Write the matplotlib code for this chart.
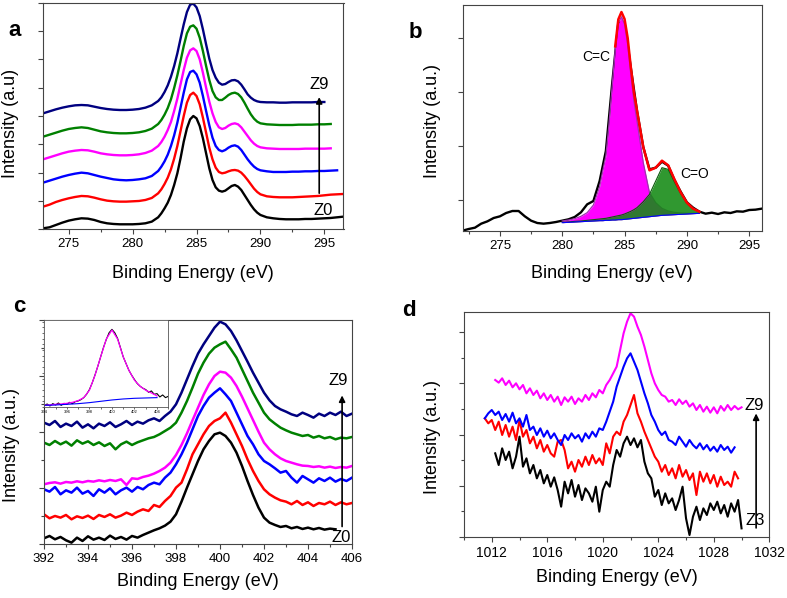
import numpy as np
import matplotlib.pyplot as plt
from matplotlib.ticker import MultipleLocator, NullLocator

plt.rcParams['font.family'] = ['Liberation Sans', 'DejaVu Sans']

# ---------------- data (intensities in arbitrary units) ----------------
# panel a: C1s, samples Z0..Z9 (offset for clarity)
e_a = np.concatenate([np.arange(273, 282.01, 0.5), np.arange(282.25, 290.01, 0.25), np.arange(290.5, 296.51, 0.5)])
a_z0 = [3, 6, 13, 20, 26, 30, 33, 32, 28, 22, 18, 16, 15, 15, 15, 16, 18, 23, 36,
        48, 63, 80, 103, 133, 168, 213, 263, 303, 330, 340, 333, 310, 273, 228, 183,
        148, 126, 116, 113, 116, 123, 130, 133, 128, 118, 103, 88, 73, 60, 50, 43,
        36, 33, 31, 30, 30, 30, 31, 31, 32, 33, 34, 36, 38]
a_red = [68, 74, 82, 88, 93, 97, 100, 99, 95, 90, 86, 84, 83, 83, 84, 85, 88, 94, 108,
         120, 136, 155, 180, 212, 250, 295, 340, 380, 403, 410, 400, 375, 335, 290, 245,
         210, 185, 172, 168, 170, 174, 177, 178, 176, 170, 160, 148, 135, 122, 112, 105,
         99, 97, 96, 96, 96, 97, 98, 99, 100, 102, 104, 105, 106]
a_blue = [140, 146, 152, 158, 163, 167, 170, 168, 163, 158, 154, 150, 148, 147, 148, 150, 153, 160, 175,
          188, 204, 224, 250, 282, 320, 365, 410, 450, 472, 476, 465, 440, 400, 355, 312,
          275, 250, 238, 234, 238, 245, 250, 252, 248, 238, 224, 210, 198, 188, 181, 177,
          174, 172, 172, 172, 173, 173, 174, 174, 175, 175, 176, 177]
a_magenta = [210, 216, 222, 228, 233, 236, 238, 237, 233, 228, 225, 223, 222, 222, 223, 225, 229, 236, 250,
             262, 278, 298, 322, 355, 392, 435, 478, 515, 537, 543, 535, 510, 470, 425, 383,
             348, 322, 306, 301, 304, 311, 316, 318, 315, 306, 293, 280, 267, 257, 250, 246,
             243, 242, 241, 241, 241, 241, 242, 242, 242, 242, 243]
a_green = [278, 284, 290, 296, 301, 304, 306, 304, 299, 294, 291, 289, 288, 288, 289, 291, 295, 302, 316,
           328, 344, 364, 390, 424, 462, 505, 550, 588, 608, 612, 602, 575, 535, 490, 448,
           415, 396, 388, 388, 395, 403, 408, 410, 406, 396, 380, 362, 345, 332, 323, 318,
           315, 314, 313, 313, 313, 314, 314, 314, 315, 315, 316]
a_z9 = [348, 354, 360, 365, 369, 372, 373, 372, 368, 364, 361, 359, 358, 358, 359, 361, 365, 372, 385,
        396, 412, 432, 458, 490, 528, 572, 615, 652, 674, 677, 666, 640, 600, 555, 512,
        478, 455, 440, 434, 436, 442, 447, 448, 444, 434, 420, 405, 395, 388, 384, 382,
        381, 381, 380, 380, 381, 381, 381, 381, 382, 382]

# panel b: deconvoluted C1s
e_b = np.arange(272, 296.01, 0.5)
b_data = [1, 6, 10, 22, 29, 39, 44, 54, 60, 60, 44, 31, 24, 22, 24, 27, 31,
          35, 42, 56, 80, 90, 150, 240, 440, 625, 625, 490, 360, 252, 185, 190, 208,
          196, 153, 118, 86, 70, 58, 52, 55, 51, 56, 54, 59, 58, 63, 64, 67]
e_fit = [280, 280.5, 281, 281.5, 282, 282.5, 283, 283.25, 283.5, 283.75, 284, 284.25, 284.5, 284.75,
         285, 285.25, 285.5, 285.75, 286, 286.5, 287, 287.5, 288, 288.5, 289, 289.5, 290, 290.5, 291]
b_base = [25, 26, 27, 28, 29, 30, 31, 31, 32, 32, 33, 33, 34, 34, 35, 36, 37, 38, 39, 41, 43, 45, 47,
          48, 49, 50, 51, 52, 53]
b_cc = [30, 33, 37, 44, 55, 78, 133, 180, 225, 320, 433, 543, 623, 643, 620, 560, 470, 390, 330,
        205, 115, 85, 68, 60, 56, 54, 53, 53, 53]
b_co = [26, 27, 29, 30, 32, 34, 36, 37, 38, 40, 42, 44, 46, 48, 51, 55, 59, 64, 70, 88, 110, 150,
        190, 185, 148, 112, 83, 66, 58]
b_env = [31, 34, 39, 46, 58, 82, 138, 186, 231, 328, 442, 554, 635, 657, 636, 579, 492, 416, 361,
         252, 182, 190, 211, 197, 155, 116, 85, 67, 58]

# panel c: N1s (grid 392 eV, step 0.25 eV)
c_z0 = [18, 25, 15, 22, 12, 5, 20, 10, 24, 14, 20, 13, 26, 16, 22, 14, 25, 20, 28, 35, 42, 48, 56, 68,
        90, 128, 170, 210, 250, 285, 310, 330, 335, 325, 305, 275, 235, 190, 148, 110,
        80, 65, 58, 52, 55, 48, 52, 46, 50, 45, 49, 44, 47, 45]
c_red = [90, 78, 85, 80, 88, 75, 84, 79, 86, 76, 88, 82, 90, 80, 86, 95, 88, 98, 105, 100, 118, 112, 130, 145,
         170, 185, 225, 270, 300, 330, 355, 370, 378, 395, 365, 330, 295, 255, 220, 190,
         165, 150, 140, 132, 128, 120, 130, 118, 126, 115, 124, 120, 128, 118, 126, 120, 124]
c_blue = [165, 158, 172, 150, 162, 155, 170, 152, 160, 145, 165, 155, 168, 150, 162, 170, 158, 172, 165, 178,
          185, 180, 200, 215, 240, 270, 305, 345, 385, 415, 440, 455, 468, 450, 430, 395, 360, 325, 300, 270,
          250, 240, 228, 215, 220, 200, 185, 205, 195, 185, 198, 190, 200, 188, 196, 190, 200]
c_magenta = [180, 184, 186, 182, 187, 185, 189, 186, 190, 188, 192, 189, 193, 190, 195, 178, 198, 196, 202, 206,
             212, 220, 230, 245, 268, 298, 333, 372, 410, 448, 480, 505, 518, 515, 500, 475, 443, 408, 373, 338,
             305, 285, 270, 258, 250, 245, 240, 236, 235, 232, 234, 230, 233, 229, 232, 230, 235]
c_green = [305, 298, 310, 300, 308, 296, 312, 302, 309, 298, 306, 295, 303, 285, 300, 308, 298, 306, 312, 318,
           322, 330, 340, 350, 365, 395, 430, 470, 512, 545, 572, 590, 600, 608, 585, 560, 525, 490, 455, 425,
           395, 375, 362, 350, 342, 335, 330, 325, 328, 320, 325, 318, 322, 315, 320, 318, 322]
c_z9 = [365, 358, 370, 352, 362, 355, 368, 350, 360, 348, 362, 355, 366, 352, 360, 370, 358, 368, 362, 372,
        378, 370, 385, 398, 420, 455, 495, 535, 572, 600, 625, 650, 668, 660, 640, 612, 580, 548, 515, 485,
        455, 432, 415, 405, 398, 390, 385, 395, 388, 380, 392, 385, 395, 388, 398, 385, 392]

# inset of panel c: N1s fit (grid 394 eV, step 0.25 eV)
in_data = [4, 9, 3, 10, 6, 12, 5, 11, 8, 14, 10, 16, 18, 22, 28, 38, 52, 72, 96, 122, 150, 178, 202, 222,
           232, 222, 205, 178, 150, 130, 110, 95, 82, 70, 62, 56, 52, 44, 48, 38, 40, 30, 36, 28, 32]
in_e_fit = [394, 394.5, 395, 395.5, 396, 396.5, 397, 397.5, 398, 398.5, 399, 399.5, 400, 400.5, 401, 401.5,
            402, 402.5, 403, 403.5, 404]
in_fit = [5, 6, 8, 9, 11, 14, 19, 28, 50, 95, 150, 203, 230, 203, 150, 110, 80, 62, 50, 42, 33]
in_e_base = [394, 395, 396, 397, 398, 399, 400, 401, 402, 403, 404]
in_base = [5, 6, 8, 10, 13, 17, 21, 24, 26, 27, 28]

# panel d: Co2p3/2 region, samples Z3..Z9 (step 0.25 eV)
d_z3_start, d_z3 = 1012.25, [250, 215, 265, 230, 255, 205, 240, 300, 210, 235, 190, 215, 175, 200, 160, 185,
                             150, 178, 140, 90, 165, 130, 170, 120, 155, 110, 145, 130, 105, 150, 75, 140,
                             165, 150, 215, 260, 240, 280, 300, 275, 295, 268, 290, 225, 190, 175, 120, 140,
                             95, 130, 100, 115, 80, 110, 150, 55, 5, 60, 90, 50, 85, 65, 100, 80,
                             105, 70, 95, 60, 100, 75, 110, 25]
d_red_start, d_red = 1011.5, [355, 340, 350, 320, 345, 305, 335, 300, 330, 290, 350, 300, 320, 280, 300, 265,
                              290, 255, 275, 250, 240, 285, 290, 260, 205, 225, 195, 230, 210, 240, 215, 245,
                              220, 235, 215, 280, 250, 300, 315, 305, 345, 365, 395, 425, 370, 345, 315, 290,
                              265, 240, 225, 195, 215, 185, 205, 175, 215, 180, 200, 170, 190, 125, 195, 165,
                              190, 160, 185, 150, 180, 155, 165, 150, 195, 175]
d_blue_start, d_blue = 1011.5, [355, 370, 380, 365, 375, 350, 368, 345, 372, 340, 355, 330, 365, 320, 330, 305,
                                325, 300, 318, 295, 310, 290, 275, 305, 290, 310, 295, 305, 285, 310, 295, 315,
                                300, 325, 320, 345, 375, 405, 450, 480, 510, 535, 550, 525, 500, 465, 430, 400,
                                365, 345, 320, 305, 315, 290, 285, 275, 300, 285, 270, 290, 275, 265, 280, 262,
                                275, 258, 270, 255, 275, 260, 270, 252, 268]
d_z9_start, d_z9 = 1012.25, [470, 462, 475, 455, 468, 448, 460, 442, 455, 430, 445, 425, 438, 415, 430, 410,
                             425, 405, 420, 395, 418, 405, 420, 398, 415, 405, 425, 410, 430, 418, 440, 430,
                             455, 470, 490, 510, 560, 610, 645, 670, 660, 630, 605, 570, 530, 490, 460, 440,
                             425, 420, 405, 410, 395, 412, 398, 408, 390, 400, 380, 395, 375, 390, 372, 388,
                             370, 392, 378, 395, 380, 392, 382, 388]

NAVY, GREEN, MAGENTA, BLUE, RED = '#000080', '#008000', '#FF00FF', '#0000FF', '#FF0000'

# ---------------- figure ----------------
W, H = 787, 598
fig = plt.figure(figsize=(W / 100, H / 100), dpi=100)


def rect(l, t, r, b):
    return [l / W, 1 - b / H, (r - l) / W, (b - t) / H]


def ftext(x, y, s, **kw):
    fig.text(x / W, 1 - y / H, s, ha='center', va='center', **kw)


def style(ax, xmaj, xmin, ymaj, yoff=0.0, ymin=None):
    for sp in ax.spines.values():
        sp.set_color('#444444')
        sp.set_linewidth(0.8)
    ax.xaxis.set_major_locator(MultipleLocator(xmaj))
    ax.xaxis.set_minor_locator(MultipleLocator(xmin))
    ax.yaxis.set_major_locator(MultipleLocator(ymaj, offset=yoff))
    ax.yaxis.set_minor_locator(MultipleLocator(ymin) if ymin else NullLocator())
    ax.tick_params(which='both', direction='out', color='#444444', width=0.8, labelsize=9.5,
                   top=False, right=False, labelleft=False, pad=3)
    ax.tick_params(which='major', length=3.5)
    ax.tick_params(which='minor', length=2.2)


# panel a
ax = fig.add_axes(rect(42.5, 2.7, 343.5, 229.3))
for y, c in [(a_z0, 'black'), (a_red, RED), (a_blue, BLUE), (a_magenta, MAGENTA), (a_green, GREEN), (a_z9, NAVY)]:
    ax.plot(e_a[:len(y)], y, color=c, lw=1.7)
ax.set_xlim(272.95, 296.5)
ax.set_ylim(0, 680)
style(ax, 5, 2.5, 85)
ax.annotate('', xy=(294.6, 405), xytext=(294.6, 100),
            arrowprops=dict(arrowstyle='-|>', color='black', lw=1.2, mutation_scale=9))
ax.text(294.6, 436, 'Z9', ha='center', va='center', fontsize=12)
ax.text(294.9, 56, 'Z0', ha='center', va='center', fontsize=12)
ftext(193, 273, 'Binding Energy (eV)', fontsize=13)
ftext(11, 123, 'Intensity (a.u)', fontsize=13, rotation=90)
ftext(15, 30, 'a', fontsize=16, fontweight='bold')

# panel b
ax = fig.add_axes(rect(462.5, 4.7, 761.7, 231))
ax.plot(e_b, b_data, color='black', lw=1.7, zorder=1)
ax.fill_between(e_fit, b_base, b_cc, color=MAGENTA, lw=0, zorder=2)
ax.plot(e_fit, b_cc, color='#a030b0', lw=0.9, zorder=2)
ax.fill_between(e_fit, b_base, b_co, color='#138a13', alpha=0.88, lw=0, zorder=3)
ax.plot(e_fit, b_co, color='#0b5a0b', lw=0.8, zorder=3)
ax.plot(e_fit, b_base, color=BLUE, lw=0.8, zorder=3)
ax.plot(e_fit[11:], b_env[11:], color=RED, lw=1.8, zorder=4)
ax.set_xlim(272, 296)
ax.set_ylim(0, 679)
style(ax, 5, 2.5, 162.5, yoff=93)
ax.text(282.7, 523, 'C=C', ha='center', va='center', fontsize=10)
ax.text(290.6, 171, 'C=O', ha='center', va='center', fontsize=10)
ftext(612, 273, 'Binding Energy (eV)', fontsize=13)
ftext(432, 121, 'Intensity (a.u.)', fontsize=13, rotation=90)
ftext(415, 32, 'b', fontsize=16, fontweight='bold')

# panel c
ax = fig.add_axes(rect(44, 320, 352, 544.3))
for y, c in [(c_z0, 'black'), (c_red, RED), (c_blue, BLUE), (c_magenta, MAGENTA), (c_green, GREEN), (c_z9, NAVY)]:
    ax.plot(392 + 0.25 * np.arange(len(y)), y, color=c, lw=1.8)
ax.set_xlim(392, 406)
ax.set_ylim(0, 673)
style(ax, 2, 1, 168, ymin=84)
ax.annotate('', xy=(405.55, 455), xytext=(405.55, 45),
            arrowprops=dict(arrowstyle='-|>', color='black', lw=1.2, mutation_scale=9))
ax.text(405.38, 490, 'Z9', ha='center', va='center', fontsize=12)
ax.text(405.5, 20, 'Z0', ha='center', va='center', fontsize=12)
ftext(198, 582, 'Binding Energy (eV)', fontsize=13)
ftext(12, 445, 'Intensity (a.u.)', fontsize=13, rotation=90)
ftext(19, 306, 'c', fontsize=16, fontweight='bold')

# inset of panel c
ins = fig.add_axes(rect(44.3, 320, 168.3, 407))
ins.set_facecolor('white')
ins.plot(394 + 0.25 * np.arange(len(in_data)), in_data, color='black', lw=0.8)
ins.plot(in_e_fit, in_fit, color=MAGENTA, lw=0.9)
ins.plot(in_e_base, in_base, color=BLUE, lw=0.8)
ins.set_xlim(394, 405)
ins.set_ylim(0, 260)
for sp in ins.spines.values():
    sp.set_color('#555555')
    sp.set_linewidth(0.6)
ins.xaxis.set_major_locator(MultipleLocator(2))
ins.xaxis.set_minor_locator(MultipleLocator(1))
ins.yaxis.set_major_locator(MultipleLocator(85))
ins.yaxis.set_minor_locator(MultipleLocator(17))
ins.tick_params(which='both', direction='out', length=1.2, width=0.4, labelsize=3, pad=1, labelleft=False)

# panel d
ax = fig.add_axes(rect(464, 312.3, 769.3, 536.7))
for x0, y, c in [(d_z3_start, d_z3, 'black'), (d_red_start, d_red, RED),
                 (d_blue_start, d_blue, BLUE), (d_z9_start, d_z9, MAGENTA)]:
    ax.plot(x0 + 0.25 * np.arange(len(y)), y, color=c, lw=1.5)
ax.set_xlim(1010, 1032)
ax.set_ylim(0, 673)
style(ax, 4, 2, 153.2, ymin=76.6)
ax.tick_params(labelsize=10)
ax.annotate('', xy=(1031.05, 378), xytext=(1031.05, 18),
            arrowprops=dict(arrowstyle='-|>', color='black', lw=1.2, mutation_scale=9))
ax.text(1030.9, 392, 'Z9', ha='center', va='center', fontsize=12)
ax.text(1031.0, 48, 'Z3', ha='center', va='center', fontsize=12)
ftext(617, 577, 'Binding Energy (eV)', fontsize=13)
ftext(432, 437, 'Intensity (a.u.)', fontsize=13, rotation=90)
ftext(409, 310, 'd', fontsize=16, fontweight='bold')

fig.savefig('out.png', dpi=100)
